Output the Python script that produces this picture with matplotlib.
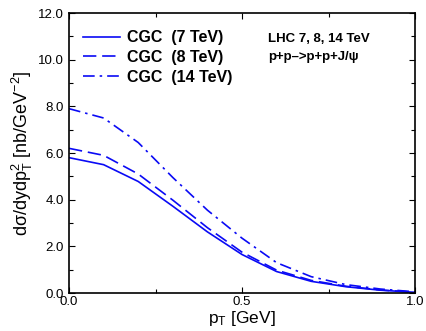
import numpy as np
import matplotlib
matplotlib.use('Agg')
import matplotlib.pyplot as plt
from matplotlib.ticker import MultipleLocator

plt.rcParams['font.family'] = ['Liberation Sans', 'DejaVu Sans']
plt.rcParams['mathtext.fontset'] = 'custom'
plt.rcParams['mathtext.rm'] = 'Liberation Sans'
plt.rcParams['mathtext.it'] = 'Liberation Sans'

pt = [0.0, 0.1, 0.2, 0.3, 0.4, 0.5, 0.6, 0.7, 0.8, 0.9, 1.0]
cgc7 = [5.8, 5.5, 4.78, 3.72, 2.62, 1.65, 0.92, 0.5, 0.27, 0.12, 0.03]
cgc8 = [6.2, 5.9, 5.1, 3.98, 2.8, 1.75, 0.98, 0.54, 0.29, 0.13, 0.03]
cgc14 = [7.9, 7.5, 6.45, 4.95, 3.55, 2.35, 1.3, 0.7, 0.36, 0.17, 0.05]
labels = ['CGC  (7 TeV)', 'CGC  (8 TeV)', 'CGC  (14 TeV)']

fig = plt.figure(figsize=(4.26, 3.31), dpi=100)
ax = fig.add_axes([69/426, 38/331, 346/426, 280/331])

col = '#0a0af5'
ax.plot(pt, cgc7, color=col, lw=1.2, ls='-', label=labels[0])
ax.plot(pt, cgc8, color=col, lw=1.2, ls=(0, (8, 3.5)), label=labels[1])
ax.plot(pt, cgc14, color=col, lw=1.2, ls=(0, (7, 3, 1.5, 3)), label=labels[2])

ax.set_xlim(0, 1)
ax.set_ylim(0, 12)
ax.xaxis.set_major_locator(MultipleLocator(0.5))
ax.xaxis.set_minor_locator(MultipleLocator(0.25))
ax.yaxis.set_major_locator(MultipleLocator(2))
ax.yaxis.set_minor_locator(MultipleLocator(1))
ax.set_xticks([0, 0.5, 1.0])
ax.set_xticklabels(['0.0', '0.5', '1.0'])
ax.set_yticklabels(['%.1f' % v for v in ax.get_yticks()])
ax.tick_params(which='both', direction='in', top=True, right=True, labelsize=9.5, width=0.8)
ax.tick_params(which='major', length=4)
ax.tick_params(which='minor', length=3)
ax.tick_params(axis='x', pad=2.5)
for s in ax.spines.values():
    s.set_linewidth(1.2)

ax.set_xlabel('p$_\\mathregular{T}$ [GeV]', fontsize=12.5, labelpad=0.5)
ax.set_ylabel('d\u03c3/dydp$_\\mathregular{T}^\\mathregular{2}$ [nb/GeV$^\\mathregular{-2}$]', fontsize=13, labelpad=2)

leg = ax.legend(loc='upper left', bbox_to_anchor=(0.0, 0.99), frameon=False,
                prop={'weight': 'bold', 'size': 11.5}, handlelength=2.3,
                handletextpad=0.45, labelspacing=0.3)

ax.text(0.575, 0.93, 'LHC 7, 8, 14 TeV\np+p\u2013>p+p+J/\u03c8', transform=ax.transAxes,
        fontsize=9.5, fontweight='bold', va='top', ha='left', linespacing=1.75)

fig.savefig('out.png', dpi=100)
